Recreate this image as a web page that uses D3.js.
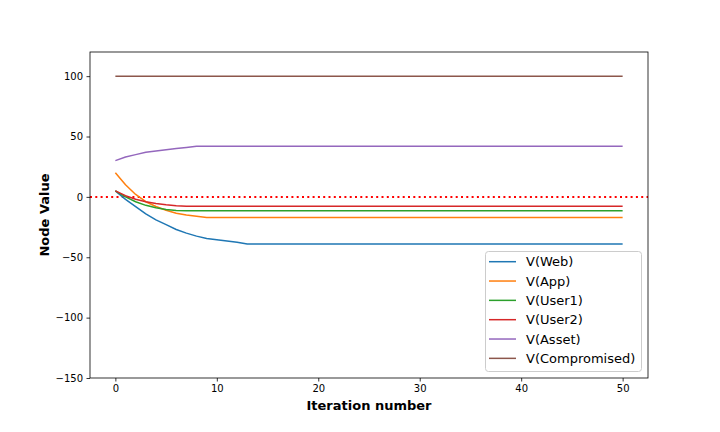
<!DOCTYPE html>
<html><head><meta charset="utf-8">
<script src="https://cdn.jsdelivr.net/npm/d3@7"></script>
<style>body{margin:0;background:#fff}svg{display:block}text{font-family:"DejaVu Sans",sans-serif}</style>
</head><body><div id="chart"></div>
<script>
const iterations = d3.range(0, 51);
const seriesNames = ["V(Web)", "V(App)", "V(User1)", "V(User2)", "V(Asset)", "V(Compromised)"];
const web = [5, -2, -8, -14, -19, -23, -27, -30, -32.5, -34.5,
  -35.5, -36.5, -37.5, -39, -39, -39, -39, -39, -39, -39,
  -39, -39, -39, -39, -39, -39, -39, -39, -39, -39,
  -39, -39, -39, -39, -39, -39, -39, -39, -39, -39,
  -39, -39, -39, -39, -39, -39, -39, -39, -39, -39,
  -39];
const app = [20, 10, 2, -4, -8, -11, -13.5, -15, -16, -17,
  -17, -17, -17, -17, -17, -17, -17, -17, -17, -17,
  -17, -17, -17, -17, -17, -17, -17, -17, -17, -17,
  -17, -17, -17, -17, -17, -17, -17, -17, -17, -17,
  -17, -17, -17, -17, -17, -17, -17, -17, -17, -17,
  -17];
const user1 = [5, 0, -4, -7, -9, -10.5, -11.2, -11.5, -11.5, -11.5,
  -11.5, -11.5, -11.5, -11.5, -11.5, -11.5, -11.5, -11.5, -11.5, -11.5,
  -11.5, -11.5, -11.5, -11.5, -11.5, -11.5, -11.5, -11.5, -11.5, -11.5,
  -11.5, -11.5, -11.5, -11.5, -11.5, -11.5, -11.5, -11.5, -11.5, -11.5,
  -11.5, -11.5, -11.5, -11.5, -11.5, -11.5, -11.5, -11.5, -11.5, -11.5,
  -11.5];
const user2 = [5, 1, -2, -4, -5.5, -6.5, -7.3, -7.7, -7.7, -7.7,
  -7.7, -7.7, -7.7, -7.7, -7.7, -7.7, -7.7, -7.7, -7.7, -7.7,
  -7.7, -7.7, -7.7, -7.7, -7.7, -7.7, -7.7, -7.7, -7.7, -7.7,
  -7.7, -7.7, -7.7, -7.7, -7.7, -7.7, -7.7, -7.7, -7.7, -7.7,
  -7.7, -7.7, -7.7, -7.7, -7.7, -7.7, -7.7, -7.7, -7.7, -7.7,
  -7.7];
const asset = [30, 33, 35, 37, 38, 39, 40, 41, 42, 42,
  42, 42, 42, 42, 42, 42, 42, 42, 42, 42,
  42, 42, 42, 42, 42, 42, 42, 42, 42, 42,
  42, 42, 42, 42, 42, 42, 42, 42, 42, 42,
  42, 42, 42, 42, 42, 42, 42, 42, 42, 42,
  42];
const compromised = [100, 100, 100, 100, 100, 100, 100, 100, 100, 100,
  100, 100, 100, 100, 100, 100, 100, 100, 100, 100,
  100, 100, 100, 100, 100, 100, 100, 100, 100, 100,
  100, 100, 100, 100, 100, 100, 100, 100, 100, 100,
  100, 100, 100, 100, 100, 100, 100, 100, 100, 100,
  100];
const xTicks = [0, 10, 20, 30, 40, 50];
const yTicks = [-150, -100, -50, 0, 50, 100];
const colors = ["#1f77b4", "#ff7f0e", "#2ca02c", "#d62728", "#9467bd", "#8c564b"];
const allSeries = [web, app, user1, user2, asset, compromised];

const W = 720, H = 432;
const L = 90, R = 648, T = 52, B = 378;
const svg = d3.select("#chart").append("svg").attr("width", W).attr("height", H);
svg.append("rect").attr("width", W).attr("height", H).attr("fill", "#fff");

const x = d3.scaleLinear().domain([-2.5, 52.5]).range([L, R]);
const y = d3.scaleLinear().domain([-150, 120]).range([B, T]);

const fmt = d => d < 0 ? "\u2212" + Math.abs(d) : String(d);

const gx = svg.append("g").attr("transform", `translate(0,${B})`)
  .call(d3.axisBottom(x).tickValues(xTicks).tickFormat(fmt).tickSize(3.5).tickPadding(3.5));
const gy = svg.append("g").attr("transform", `translate(${L},0)`)
  .call(d3.axisLeft(y).tickValues(yTicks).tickFormat(fmt).tickSize(3.5).tickPadding(3.5));
[gx, gy].forEach(g => {
  g.select(".domain").remove();
  g.selectAll(".tick line").attr("stroke", "#000").attr("stroke-width", 0.8);
  g.selectAll(".tick text").attr("fill", "#000").style("font-size", "10px").style("font-family", "DejaVu Sans");
});

const plot = svg.append("g");
plot.append("line").attr("x1", L).attr("x2", R).attr("y1", y(0)).attr("y2", y(0))
  .attr("stroke", "red").attr("stroke-width", 2).attr("stroke-dasharray", "2,3.3");
const line = d3.line().x((d, i) => x(iterations[i])).y(d => y(d));
allSeries.forEach((s, k) => {
  plot.append("path").datum(s).attr("d", line).attr("fill", "none")
    .attr("stroke", colors[k]).attr("stroke-width", 1.5).attr("stroke-linejoin", "round");
});

svg.append("rect").attr("x", L).attr("y", T).attr("width", R - L).attr("height", B - T)
  .attr("fill", "none").attr("stroke", "#000").attr("stroke-width", 0.8);

svg.append("text").attr("x", (L + R) / 2).attr("y", 410).attr("text-anchor", "middle")
  .style("font-size", "13px").style("font-weight", "bold").text("Iteration number");
svg.append("text").attr("transform", `translate(49,${(T + B) / 2}) rotate(-90)`).attr("text-anchor", "middle")
  .style("font-size", "13px").style("font-weight", "bold").text("Node Value");

const lg = svg.append("g");
lg.append("rect").attr("x", 485.5).attr("y", 251.5).attr("width", 156).attr("height", 120).attr("rx", 3)
  .attr("fill", "#fff").attr("fill-opacity", 0.8).attr("stroke", "#ccc").attr("stroke-width", 1);
seriesNames.forEach((n, k) => {
  const yy = 261.7 + k * 19.33;
  lg.append("line").attr("x1", 489).attr("x2", 516).attr("y1", yy).attr("y2", yy)
    .attr("stroke", colors[k]).attr("stroke-width", 1.5);
  lg.append("text").attr("x", 526).attr("y", yy).attr("dy", "0.36em")
    .style("font-size", "13px").text(n);
});
</script></body></html>
